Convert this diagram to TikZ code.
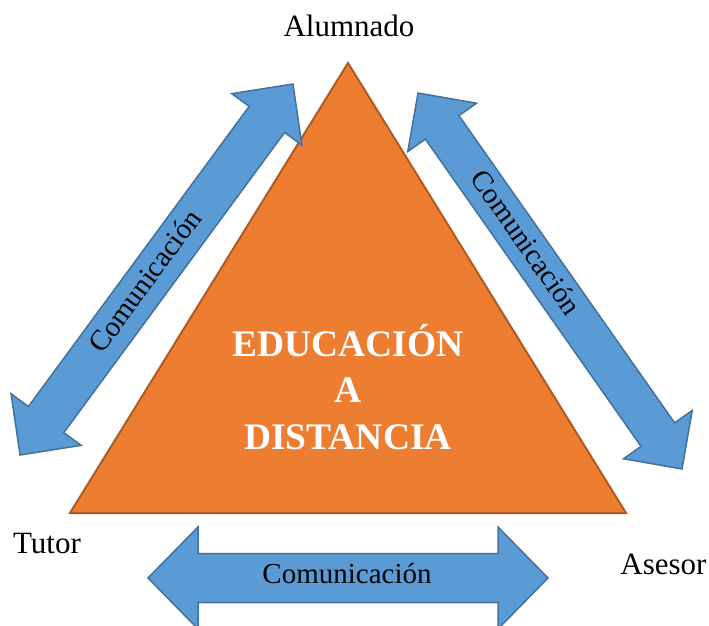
\documentclass[tikz,border=0pt]{standalone}
\usepackage{fontspec}
\setmainfont{Liberation Serif}
\definecolor{triorange}{HTML}{ED7D31}
\definecolor{triedge}{HTML}{AE5A21}
\definecolor{arrblue}{HTML}{5B9BD5}
\definecolor{arredge}{HTML}{41719C}
% double arrow: half length, head length, shaft half width, head half width
\newcommand{\commarrow}[4]{
  \draw[arrblue, fill=arrblue, draw=arredge, line width=1.5pt, line join=miter]
    (-#1,0) -- (-#1+#2,#4) -- (-#1+#2,#3) -- (#1-#2,#3) -- (#1-#2,#4) -- (#1,0)
    -- (#1-#2,-#4) -- (#1-#2,-#3) -- (-#1+#2,-#3) -- (-#1+#2,-#4) -- cycle;
}

\begin{document}
\begin{tikzpicture}[x=1pt, y=1pt,
    corner/.style={font=\fontsize{31}{36}\selectfont, anchor=base, inner sep=0pt},
    commtext/.style={font=\fontsize{29}{34}\selectfont, anchor=base, inner sep=0pt, transform shape}]
      \useasboundingbox (0,0) rectangle (709,625);

      % triangle
      \coordinate (top) at (348,562);
      \coordinate (left) at (70,112);
      \coordinate (right) at (626,112);
      \draw[fill=triorange, draw=triedge, line width=2pt, line join=miter] (top) -- (left) -- (right) -- cycle;
      \node (edu) at (348,238) [align=center, text=white, inner sep=0pt,
        font=\bfseries\fontsize{37.5}{46.5}\selectfont] {EDUCACIÓN\\A\\DISTANCIA};

      % corners
      \node (alum) at (349,588) [corner] {Alumnado};
      \node (tutor) at (47,72) [corner] {Tutor};
      \node (asesor) at (663.5,51) [corner] {Asesor};

      % arrows
      \begin{scope}[shift={(156.5,355.5)}, rotate=53.66]
        \commarrow{230.3}{44}{22}{43.5}
        \node (comtl) at (-16,-7) [commtext] {Comunicación};
      \end{scope}
      \begin{scope}[shift={(550,344)}, rotate=-54.93]
        \commarrow{229.7}{42}{20.5}{42}
        \node (comtr) at (-45,-7) [commtext] {Comunicación};
      \end{scope}
      \begin{scope}[shift={(348,47)}]
        \commarrow{200}{50}{24.5}{51}
        \node (comtb) at (-1,-5) [commtext] {Comunicación};
      \end{scope}
    \end{tikzpicture}
\end{document}
